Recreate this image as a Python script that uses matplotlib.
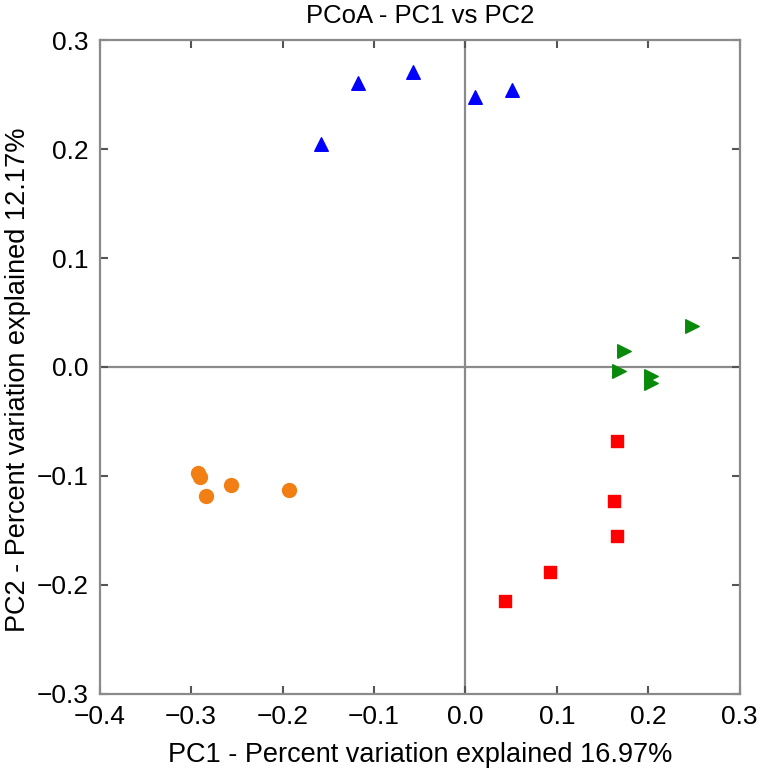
import numpy as np
import matplotlib.pyplot as plt

plt.rcParams['font.family'] = ['Liberation Sans', 'DejaVu Sans']

# group data (PC1, PC2)
blue_x = [-0.158, -0.118, -0.057, 0.010, 0.051]
blue_y = [0.205, 0.261, 0.271, 0.248, 0.254]

green_x = [0.248, 0.173, 0.168, 0.203, 0.203]
green_y = [0.038, 0.015, -0.004, -0.008, -0.015]

orange_x = [-0.293, -0.290, -0.284, -0.256, -0.193]
orange_y = [-0.097, -0.101, -0.118, -0.108, -0.113]

red_x = [0.166, 0.162, 0.166, 0.093, 0.043]
red_y = [-0.068, -0.123, -0.155, -0.188, -0.215]

xticks = [-0.4, -0.3, -0.2, -0.1, 0.0, 0.1, 0.2, 0.3]
yticks = [-0.3, -0.2, -0.1, 0.0, 0.1, 0.2, 0.3]

fig = plt.figure(figsize=(7.61, 7.71), dpi=100)
ax = fig.add_axes([0.131, 0.0999, 0.841, 0.8482])

grey = '#8a8a8a'
ax.axhline(0, color=grey, lw=1.6, zorder=1)
ax.axvline(0, color=grey, lw=1.6, zorder=1)

ax.scatter(blue_x, blue_y, marker='^', s=95, color='#0000ff', zorder=3)
ax.scatter(green_x, green_y, marker='>', s=95, color='#0a8a0a', zorder=3)
ax.scatter(orange_x, orange_y, marker='o', s=100, color='#f27f14', zorder=3)
ax.scatter(red_x, red_y, marker='s', s=85, color='#ff0000', zorder=3)

ax.set_xlim(-0.4, 0.3)
ax.set_ylim(-0.3, 0.3)
ax.set_xticks(xticks)
ax.set_yticks(yticks)
ax.set_xticklabels(['\u22120.4', '\u22120.3', '\u22120.2', '\u22120.1', '0.0', '0.1', '0.2', '0.3'])
ax.set_yticklabels(['\u22120.3', '\u22120.2', '\u22120.1', '0.0', '0.1', '0.2', '0.3'])
ax.tick_params(direction='in', top=True, right=True, length=6, width=1.5,
               color='#555555', labelsize=19)
ax.tick_params(axis='x', pad=8)
ax.tick_params(axis='y', pad=8)
for sp in ax.spines.values():
    sp.set_color(grey)
    sp.set_linewidth(1.6)

ax.set_title('PCoA - PC1 vs PC2', fontsize=18.5, pad=12)
ax.set_xlabel('PC1 - Percent variation explained 16.97%', fontsize=19.5, labelpad=9)
ax.set_ylabel('PC2 - Percent variation explained 12.17%', fontsize=19.5, labelpad=6)
ax.yaxis.set_label_coords(-0.107, 0.48)

fig.savefig('out.png', dpi=100)
